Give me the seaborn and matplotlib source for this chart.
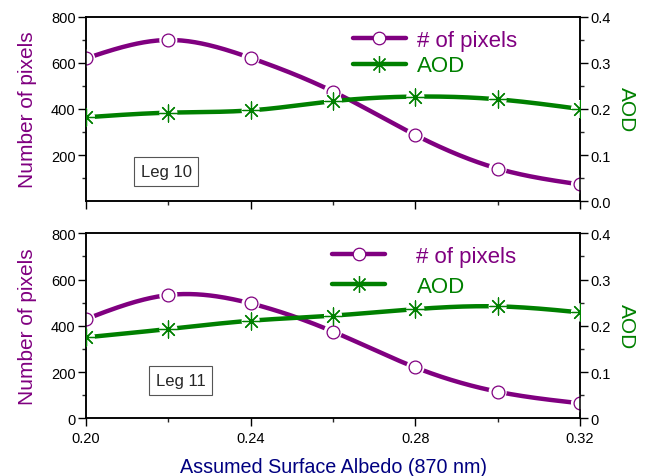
import numpy as np
import matplotlib
matplotlib.use('Agg')
import matplotlib.pyplot as plt
import seaborn as sns
from matplotlib.lines import Line2D
from matplotlib.ticker import MultipleLocator, FixedLocator

# data
albedo = [0.20, 0.22, 0.24, 0.26, 0.28, 0.30, 0.32]
pixels_leg10 = [620, 700, 622, 476, 287, 141, 72]
aod_leg10 = [0.182, 0.192, 0.197, 0.217, 0.227, 0.221, 0.200]
pixels_leg11 = [429, 533, 497, 375, 220, 115, 65]
aod_leg11 = [0.175, 0.193, 0.211, 0.222, 0.236, 0.242, 0.229]
panel_names = ['Leg 10', 'Leg 11']

PURPLE = '#800080'
GREEN = '#008000'
NAVY = '#000080'

sns.set_style('ticks')
plt.rcParams['font.family'] = ['Liberation Sans', 'DejaVu Sans']
plt.rcParams['axes.linewidth'] = 1.1


def smooth(x, y, n=300):
    # natural cubic spline through the points (Origin style smooth line)
    x = np.asarray(x, float)
    y = np.asarray(y, float)
    h = np.diff(x)
    nn = len(x)
    A = np.zeros((nn, nn))
    b = np.zeros(nn)
    A[0, 0] = A[-1, -1] = 1
    for i in range(1, nn - 1):
        A[i, i - 1] = h[i - 1]
        A[i, i] = 2 * (h[i - 1] + h[i])
        A[i, i + 1] = h[i]
        b[i] = 3 * ((y[i + 1] - y[i]) / h[i] - (y[i] - y[i - 1]) / h[i - 1])
    c = np.linalg.solve(A, b)
    xs = np.linspace(x[0], x[-1], n)
    idx = np.clip(np.searchsorted(x, xs) - 1, 0, nn - 2)
    dx = xs - x[idx]
    bb = (y[idx + 1] - y[idx]) / h[idx] - h[idx] * (2 * c[idx] + c[idx + 1]) / 3
    d = (c[idx + 1] - c[idx]) / (3 * h[idx])
    return xs, y[idx] + bb * dx + c[idx] * dx ** 2 + d * dx ** 3


def draw_series(ax, x, y, color, marker, size, z):
    xs, ys = smooth(x, y)
    sns.lineplot(x=xs, y=ys, ax=ax, color=color, lw=3.2, zorder=z, sort=False)
    # white halo so the line stops short of the markers
    sns.scatterplot(x=x, y=y, ax=ax, color='white', s=170, marker='o',
                    edgecolor='none', zorder=z + 1)
    if marker == 'o':
        sns.scatterplot(x=x, y=y, ax=ax, marker='o', s=size, facecolor='white',
                        edgecolor=color, linewidth=0.9, zorder=z + 2)
    else:
        sns.scatterplot(x=x, y=y, ax=ax, marker=marker, s=size, color=color,
                        edgecolor=color, linewidth=0.9, zorder=z + 2)


fig = plt.figure(figsize=(6.49, 4.77), dpi=100)
ax_top = fig.add_axes([0.1325, 0.5765, 0.7612, 0.3858])
ax_bot = fig.add_axes([0.1325, 0.1210, 0.7612, 0.3878])

panels = [
    (ax_top, pixels_leg10, aod_leg10, (0.162, 0.16), (0.54, 0.93), 0.5, 0.2),
    (ax_bot, pixels_leg11, aod_leg11, (0.192, 0.204), (0.498, 0.93), 1.4, 0.4),
]

for k, (ax, pix, aod, boxpos, legpos, tpad, lspace) in enumerate(panels):
    ax2 = ax.twinx()
    draw_series(ax, albedo, pix, PURPLE, 'o', 85, 3)
    draw_series(ax2, albedo, aod, GREEN, (8, 2, 0), 150, 3)

    ax.set_xlim(0.20, 0.32)
    ax.set_ylim(0, 800)
    ax2.set_ylim(0, 0.4)

    ax.xaxis.set_major_locator(FixedLocator([0.20, 0.24, 0.28, 0.32]))
    ax.xaxis.set_minor_locator(FixedLocator([0.22, 0.26, 0.30]))
    if k == 0:
        ax.yaxis.set_major_locator(FixedLocator([200, 400, 600, 800]))
        ax.set_xticklabels([])
        ax2.set_yticks([0, 0.1, 0.2, 0.3, 0.4])
        ax2.set_yticklabels(['0.0', '0.1', '0.2', '0.3', '0.4'])
    else:
        ax.yaxis.set_major_locator(FixedLocator([0, 200, 400, 600, 800]))
        ax.set_xticklabels(['0.20', '0.24', '0.28', '0.32'])
        ax2.set_yticks([0, 0.1, 0.2, 0.3, 0.4])
        ax2.set_yticklabels(['0', '0.1', '0.2', '0.3', '0.4'])
    ax.yaxis.set_minor_locator(FixedLocator([100, 300, 500, 700]))
    ax2.yaxis.set_minor_locator(MultipleLocator(0.05))

    for a in (ax, ax2):
        a.tick_params(which='major', direction='out', length=5.5, width=1.0,
                      labelsize=10.5, colors='black')
        a.tick_params(which='minor', direction='out', length=3, width=1.0)
        for sp in a.spines.values():
            sp.set_visible(True)
            sp.set_color('black')
            sp.set_linewidth(1.1)
    ax.tick_params(axis='both', which='both', right=False, top=False)
    ax2.tick_params(axis='y', which='both', left=False, right=True)
    ax.tick_params(axis='y', pad=2)
    ax2.tick_params(axis='y', pad=2)

    ax.set_ylabel('Number of pixels', color=PURPLE, fontsize=15, labelpad=10)
    ax2.set_ylabel('AOD', color=GREEN, fontsize=15, rotation=-90, labelpad=18)
    ax.set_xlabel('')

    ax.text(boxpos[0], boxpos[1], panel_names[k], transform=ax.transAxes,
            ha='center', va='center', fontsize=12, zorder=10,
            bbox=dict(boxstyle='square,pad=0.4', fc='white', ec='#555555', lw=0.8))

    handles = [
        Line2D([], [], color=PURPLE, lw=3.2, marker='o', ms=9, mfc='white',
               mec=PURPLE, mew=0.9),
        Line2D([], [], color=GREEN, lw=3.2, marker=(8, 2, 0), ms=12,
               mec=GREEN, mew=0.9),
    ]
    leg = ax2.legend(handles, ['# of pixels', 'AOD'], loc='upper left',
                     bbox_to_anchor=legpos, frameon=False, fontsize=16,
                     handlelength=2.4, handletextpad=tpad, labelspacing=lspace,
                     borderpad=0, borderaxespad=0, labelcolor='linecolor')
    leg.set_zorder(20)

ax_bot.set_xlabel('Assumed Surface Albedo (870 nm)', color=NAVY, fontsize=14.2,
                  labelpad=9)

fig.savefig('out.png', dpi=100)
